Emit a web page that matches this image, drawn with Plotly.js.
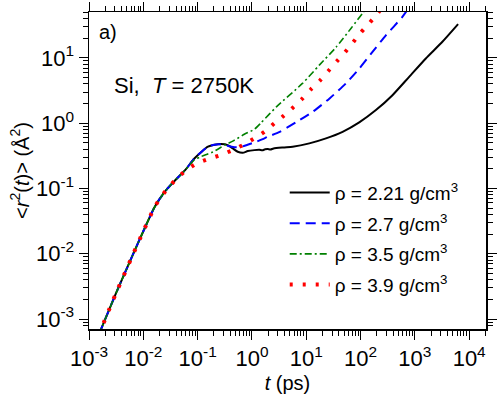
<!DOCTYPE html>
<html>
<head>
<meta charset="utf-8">
<script src="https://cdn.plot.ly/plotly-3.0.1.min.js"></script>
<style>
  html, body { margin: 0; padding: 0; background: #fff; }
  #chart { width: 498px; height: 398px; }
</style>
</head>
<body>
<div id="chart"></div>
<script>
// mean square displacement of liquid Si at T = 2750K, four densities
// t in ps, msd in Å^2

const tBlack = [0.0015, 0.00316, 0.00631, 0.01, 0.0158, 0.02, 0.0282, 0.0407, 0.0589, 0.0871, 0.117, 0.155, 0.204, 0.269, 0.359, 0.444, 0.548, 0.678, 0.838, 1.11, 1.37, 1.55, 1.75, 1.95, 2.2, 2.5, 3.95, 5.62, 11.4, 23.1, 46.7, 94.6, 192, 387, 785, 1592, 3214, 6252];
const msdBlack = [0.000565, 0.00251, 0.00933, 0.0221, 0.0501, 0.0692, 0.101, 0.140, 0.191, 0.288, 0.363, 0.437, 0.467, 0.479, 0.462, 0.411, 0.365, 0.352, 0.374, 0.387, 0.392, 0.384, 0.398, 0.402, 0.395, 0.411, 0.426, 0.436, 0.491, 0.585, 0.738, 1.03, 1.59, 2.69, 5.14, 9.82, 17.7, 33.0];

const tBlue = [0.0015, 0.00316, 0.00631, 0.01, 0.0158, 0.02, 0.0282, 0.0407, 0.0589, 0.0871, 0.117, 0.155, 0.204, 0.269, 0.355, 0.447, 0.55, 0.676, 0.832, 1.2, 1.58, 1.95, 3.24, 6.46, 13.2, 26.9, 53.7, 95.5, 166, 295, 589, 700];
const msdBlue = [0.000565, 0.00251, 0.00933, 0.0221, 0.0501, 0.0692, 0.101, 0.140, 0.191, 0.288, 0.363, 0.437, 0.468, 0.473, 0.452, 0.432, 0.427, 0.442, 0.468, 0.519, 0.571, 0.619, 0.738, 1.03, 1.50, 2.40, 4.07, 6.92, 12.4, 22.3, 42.6, 52.0];

const tGreen = [0.0015, 0.00316, 0.00631, 0.01, 0.0158, 0.02, 0.0282, 0.0407, 0.0589, 0.0871, 0.117, 0.191, 0.316, 0.479, 0.724, 1.12, 1.48, 2.82, 8.51, 17.4, 35.5, 67.6, 110, 118];
const msdGreen = [0.000565, 0.00251, 0.00933, 0.0221, 0.0501, 0.0692, 0.101, 0.140, 0.191, 0.275, 0.309, 0.363, 0.462, 0.550, 0.676, 0.813, 1.02, 1.78, 4.07, 7.76, 14.6, 28.8, 49.0, 53.0];

const tRed = [0.0015, 0.00316, 0.00631, 0.01, 0.0158, 0.02, 0.0282, 0.0407, 0.0592, 0.0942, 0.154, 0.253, 0.415, 0.678, 1.07, 1.70, 2.59, 3.85, 5.89, 8.59, 12.2, 18.2, 25.5, 36.8, 52.5, 74.3, 102, 149, 206, 225];
const msdRed = [0.000565, 0.00251, 0.00933, 0.0221, 0.0501, 0.0692, 0.101, 0.140, 0.185, 0.240, 0.281, 0.321, 0.378, 0.462, 0.575, 0.738, 1.0, 1.30, 1.78, 2.40, 3.31, 4.57, 6.31, 8.93, 12.4, 17.7, 24.6, 35.0, 48.0, 53.0];

const seriesNames = ['ρ = 2.21 g/cm<sup>3</sup>', 'ρ = 2.7 g/cm<sup>3</sup>', 'ρ = 3.5 g/cm<sup>3</sup>', 'ρ = 3.9 g/cm<sup>3</sup>'];

const xTickVals = [1e-3, 1e-2, 1e-1, 1, 10, 100, 1000, 10000];
const xTickText = ['10<sup>-3</sup>', '10<sup>-2</sup>', '10<sup>-1</sup>', '10<sup>0</sup>', '10<sup>1</sup>', '10<sup>2</sup>', '10<sup>3</sup>', '10<sup>4</sup>'];
const yTickVals = [1e-3, 1e-2, 1e-1, 1, 10];
const yTickText = ['10<sup>-3</sup>', '10<sup>-2</sup>', '10<sup>-1</sup>', '10<sup>0</sup>', '10<sup>1</sup>'];

const FONT = 'Liberation Sans, Arial, Helvetica, sans-serif';

// minor ticks at 2..9 of every decade
function minorTicks(lo, hi) {
    const out = [];
    for (let p = lo; p <= hi; p++) {
        for (let m = 2; m <= 9; m++) out.push(m * Math.pow(10, p));
    }
    return out;
}

const traces = [
    { x: tBlack, y: msdBlack, line: { color: '#000000', width: 2 } },
    { x: tBlue, y: msdBlue, line: { color: '#0000ff', width: 2, dash: '10px,6px' } },
    { x: tGreen, y: msdGreen, line: { color: '#008000', width: 1.6, dash: '7px,3px,2px,3px' } },
    { x: tRed, y: msdRed, line: { color: '#ff0000', width: 4, dash: '3px,10px' } }
].map((tr, i) => Object.assign(tr, {
    type: 'scatter',
    mode: 'lines',
    name: seriesNames[i],
    legendgroup: 'g' + i,
    line: Object.assign(tr.line, { shape: 'spline', smoothing: 0.6 })
}));

const axisCommon = {
    type: 'log',
    showgrid: false,
    zeroline: false,
    showline: true,
    linecolor: '#000',
    linewidth: 1.5,
    mirror: 'ticks',
    ticks: 'outside',
    ticklen: 9,
    tickwidth: 1,
    tickcolor: '#000',
    tickmode: 'array',
    tickfont: { family: FONT, size: 22, color: '#000' }
};

const layout = {
    width: 498,
    height: 398,
    margin: { l: 89, r: 12, t: 12, b: 69 },
    paper_bgcolor: '#fff',
    plot_bgcolor: '#fff',
    font: { family: FONT, color: '#000' },
    showlegend: true,
    xaxis: Object.assign({}, axisCommon, {
        range: [-3, 4.31],
        tickvals: xTickVals,
        ticktext: xTickText,
        minor: { tickmode: 'array', tickvals: minorTicks(-3, 4), ticks: 'outside', ticklen: 5, tickcolor: '#000', tickwidth: 1, showgrid: false },
        title: { text: '<i>t</i> (ps)', font: { family: FONT, size: 20 }, standoff: 6 }
    }),
    yaxis: Object.assign({}, axisCommon, {
        range: [-3.153, 1.704],
        tickvals: yTickVals,
        ticktext: yTickText,
        minor: { tickmode: 'array', tickvals: minorTicks(-4, 1), ticks: 'outside', ticklen: 5, tickcolor: '#000', tickwidth: 1, showgrid: false },
        title: { text: '<<i>r</i><sup>2</sup>(<i>t</i>)> (Å<sup>2</sup>)', font: { family: FONT, size: 20 }, standoff: 1 }
    }),
    legend: {
        x: 0.493, y: 0.49, xanchor: 'left', yanchor: 'top',
        bgcolor: 'rgba(0,0,0,0)',
        borderwidth: 0,
        tracegroupgap: 3,
        itemwidth: 40,
        font: { family: FONT, size: 19, color: '#000' }
    },
    annotations: [
        { text: 'a)', xref: 'paper', yref: 'paper', x: 0.02, y: 0.937, xanchor: 'left', yanchor: 'middle', showarrow: false, font: { family: FONT, size: 20 } },
        { text: 'Si,  <i>T</i> = 2750K', xref: 'paper', yref: 'paper', x: 0.058, y: 0.767, xanchor: 'left', yanchor: 'middle', showarrow: false, font: { family: FONT, size: 22 } }
    ]
};

Plotly.newPlot('chart', traces, layout, { displayModeBar: false, staticPlot: true });
</script>
</body>
</html>
